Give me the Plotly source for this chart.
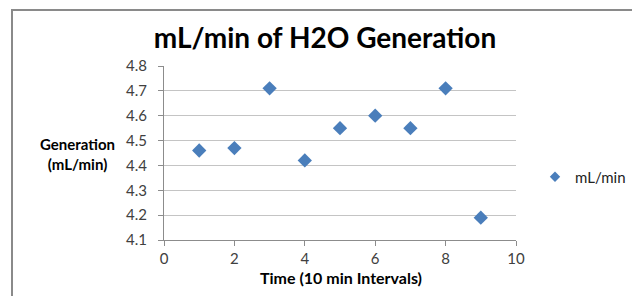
import plotly.graph_objects as go

time_x = [1, 2, 3, 4, 5, 6, 7, 8, 9]
rate_y = [4.46, 4.47, 4.71, 4.42, 4.55, 4.60, 4.55, 4.71, 4.19]
series_name = "mL/min"
title_text = "mL/min of H2O Generation"
x_title = "Time (10 min Intervals)"
y_title = "Generation<br>(mL/min)"

FONT = "Lato, 'Open Sans', sans-serif"
L, T, W, H = 156, 58, 352, 174

fig = go.Figure()
fig.add_trace(go.Scatter(
    x=time_x, y=rate_y, mode="markers", name=series_name, showlegend=False,
    marker=dict(symbol="diamond", size=11, color="#4a7ebb"),
))
# legend entry with the smaller legend glyph
fig.add_trace(go.Scatter(
    x=[None], y=[None], mode="markers", name=series_name, showlegend=True,
    marker=dict(symbol="diamond", size=8, color="#4a7ebb"),
))

fig.update_layout(
    width=640, height=296,
    margin=dict(l=L, r=640 - L - W, t=T, b=296 - T - H),
    paper_bgcolor="white", plot_bgcolor="white",
    font=dict(family=FONT, color="#404040", size=14),
    title=dict(text="<b>" + title_text + "</b>", x=(317 - L) / W, xref="paper", xanchor="center",
               y=1 - 30 / 296, yref="container", yanchor="middle",
               font=dict(family=FONT, size=28, color="#000000")),
    showlegend=True,
    legend=dict(x=(527 - L) / W, xanchor="left", y=(T + H - 169) / H, yanchor="middle",
                font=dict(family=FONT, size=15, color="#222222"),
                itemwidth=30, bgcolor="rgba(0,0,0,0)"),
    xaxis=dict(range=[0, 10], dtick=2, tick0=0, showgrid=False,
               showline=True, linecolor="#8c8c8c", linewidth=1,
               ticks="outside", ticklen=5, tickcolor="#8c8c8c",
               zeroline=False, tickfont=dict(size=15, color="#404040")),
    yaxis=dict(range=[4.1, 4.8], dtick=0.1, tick0=4.1, tickformat=".1f",
               showgrid=True, gridcolor="#c4c4c4", gridwidth=1,
               showline=True, linecolor="#8c8c8c", linewidth=1,
               ticks="outside", ticklen=5, tickcolor="#8c8c8c",
               ticklabelstandoff=8,
               zeroline=False, tickfont=dict(size=15, color="#404040")),
    shapes=[dict(type="rect", xref="paper", yref="paper",
                 x0=(4 - L) / W, x1=(630 - L) / W, y0=-1.0, y1=1 + (T - 2) / H,
                 line=dict(color="#8a8a8a", width=2), fillcolor="rgba(0,0,0,0)",
                 layer="below")],
    annotations=[
        dict(text="<b>" + y_title + "</b>", xref="paper", yref="paper",
             x=(69 - L) / W, y=(T + H - 146) / H, xanchor="center", yanchor="middle",
             showarrow=False, align="center",
             font=dict(family=FONT, size=15, color="#000000")),
        dict(text="<b>" + x_title + "</b>", xref="paper", yref="paper",
             x=(333 - L) / W, y=-37 / H, xanchor="center", yanchor="middle",
             showarrow=False,
             font=dict(family=FONT, size=16, color="#000000")),
    ],
)

fig.write_html("out.html")
